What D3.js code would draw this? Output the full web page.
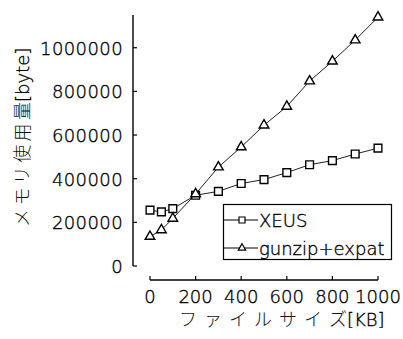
<!DOCTYPE html>
<html>
<head>
<meta charset="utf-8">
<script src="https://cdn.jsdelivr.net/npm/d3@7"></script>
<style>
  html, body { margin: 0; padding: 0; background: #fff; }
  svg { display: block; }
  text { font-family: "DejaVu Sans", "Noto Sans CJK JP", sans-serif; fill: #000; stroke: #000; stroke-width: 0.35; font-weight: 300; }
  tspan.cjk { stroke: none; fill: #111; }
</style>
</head>
<body>
<svg id="chart" width="403" height="339"></svg>
<script>
// File size [KB] for each measurement
const sizes = [0, 50, 100, 200, 300, 400, 500, 600, 700, 800, 900, 1000];
// Memory usage [byte]
const xeus   = [256000, 248000, 263000, 324000, 342000, 378000, 396000, 428000, 464000, 483000, 513000, 540000];
const gunzip = [135000, 165000, 218000, 330000, 453000, 545000, 645000, 731000, 847000, 938000, 1035000, 1140000];

const seriesNames = ["XEUS", "gunzip+expat"];
const xTicks = [0, 200, 400, 600, 800, 1000];
const yTicks = [0, 200000, 400000, 600000, 800000, 1000000];
const xTitle = ["ファイルサイ", "ズ", "[KB]"];
const yTitle = ["メモリ使用", "量", "[byte]"];

const svg = d3.select("#chart");

const x = d3.scaleLinear().domain([0, 1000]).range([150, 378]);
const y = d3.scaleLinear().domain([0, 1150000]).range([266, 15]);

// Y axis: ticks pointing inward (to the right), labels on the left
const yAxisX = 133;
const yAxis = svg.append("g").attr("transform", `translate(${yAxisX},0)`);
yAxis.append("line")
  .attr("x1", 0).attr("x2", 0)
  .attr("y1", y(0)).attr("y2", y.range()[1])
  .attr("stroke", "#000").attr("stroke-width", 1.4);
yAxis.selectAll("line.tick").data(yTicks).join("line")
  .attr("class", "tick")
  .attr("x1", 0).attr("x2", 4)
  .attr("y1", d => y(d)).attr("y2", d => y(d))
  .attr("stroke", "#000").attr("stroke-width", 1.2);
yAxis.selectAll("text").data(yTicks).join("text")
  .attr("x", -10)
  .attr("y", d => y(d) + 7)
  .attr("text-anchor", "end")
  .attr("font-size", 18)
  .attr("letter-spacing", 0.4)
  .text(d => d3.format("d")(d));

// X axis: detached below the plot, ticks pointing up
const xAxisY = 280;
const xAxis = svg.append("g").attr("transform", `translate(0,${xAxisY})`);
xAxis.append("line")
  .attr("x1", x(0)).attr("x2", x(1000))
  .attr("y1", 0).attr("y2", 0)
  .attr("stroke", "#000").attr("stroke-width", 1.4);
xAxis.selectAll("line.tick").data(xTicks).join("line")
  .attr("class", "tick")
  .attr("x1", d => x(d)).attr("x2", d => x(d))
  .attr("y1", 0).attr("y2", -4)
  .attr("stroke", "#000").attr("stroke-width", 1.2);
xAxis.selectAll("text").data(xTicks).join("text")
  .attr("x", d => x(d))
  .attr("y", 23)
  .attr("text-anchor", "middle")
  .attr("font-size", 18)
  .text(d => d);

// Axis titles: kana/kanji spaced wide, bracketed unit kept compact
const xt = svg.append("text")
  .attr("x", 179).attr("y", 326)
  .attr("font-size", 18);
xt.append("tspan").attr("class", "cjk").attr("letter-spacing", 7).text(xTitle[0]);
xt.append("tspan").attr("class", "cjk").text(xTitle[1]);
xt.append("tspan").text(xTitle[2]);

const yt = svg.append("text")
  .attr("transform", "translate(29,227) rotate(-90)")
  .attr("x", 0).attr("y", 0)
  .attr("font-size", 18);
yt.append("tspan").attr("class", "cjk").attr("letter-spacing", 3.4).text(yTitle[0]);
yt.append("tspan").attr("class", "cjk").text(yTitle[1]);
yt.append("tspan").text(yTitle[2]);

// Series lines and markers
const line = d3.line().x((d, i) => x(sizes[i])).y(d => y(d));
const series = [
  { name: seriesNames[0], values: xeus, symbol: d3.symbolSquare, size: 60 },
  { name: seriesNames[1], values: gunzip, symbol: d3.symbolTriangle, size: 40 }
];

series.forEach(s => {
  svg.append("path")
    .attr("d", line(s.values))
    .attr("fill", "none")
    .attr("stroke", "#222")
    .attr("stroke-width", 1);
});
series.forEach(s => {
  svg.append("g").selectAll("path").data(s.values).join("path")
    .attr("transform", (d, i) => `translate(${x(sizes[i])},${y(d)})`)
    .attr("d", d3.symbol().type(s.symbol).size(s.size))
    .attr("fill", "#fff")
    .attr("stroke", "#000")
    .attr("stroke-width", 1.4);
});

// Legend
const legend = svg.append("g");
legend.append("rect")
  .attr("x", 223.5).attr("y", 204.5)
  .attr("width", 168).attr("height", 55)
  .attr("fill", "#fff").attr("stroke", "#000").attr("stroke-width", 1.2);
const rows = legend.selectAll("g.row").data(series).join("g")
  .attr("class", "row")
  .attr("transform", (d, i) => `translate(0,${220 + i * 28})`);
rows.append("line")
  .attr("x1", 224).attr("x2", 258)
  .attr("y1", 0).attr("y2", 0)
  .attr("stroke", "#000").attr("stroke-width", 1.2);
rows.append("path")
  .attr("transform", "translate(242,0)")
  .attr("d", d => d3.symbol().type(d.symbol).size(d.size * 0.6)())
  .attr("fill", "#fff").attr("stroke", "#000").attr("stroke-width", 1.2);
rows.append("text")
  .attr("x", 259).attr("y", 7)
  .attr("font-size", 18)
  .text(d => d.name);
</script>
</body>
</html>
